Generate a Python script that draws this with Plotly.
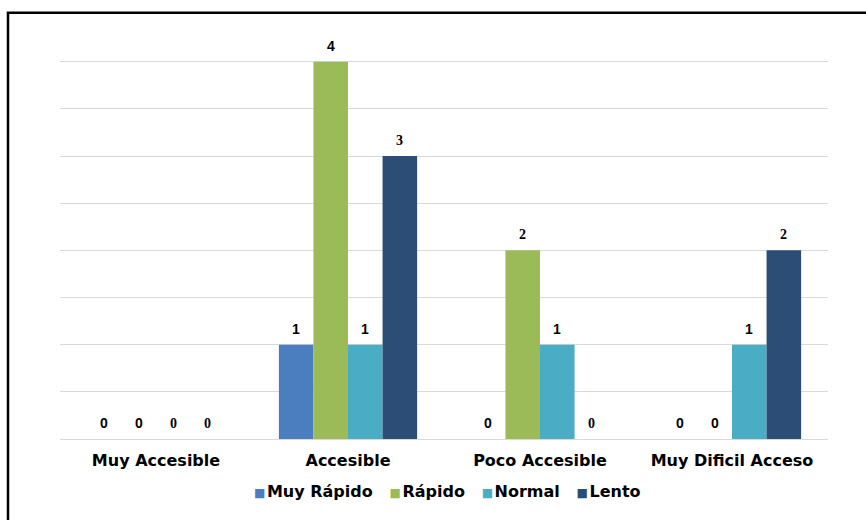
import plotly.graph_objects as go

categories = ["Muy Accesible", "Accesible", "Poco Accesible", "Muy Dificil Acceso"]
series_names = ["Muy Rápido", "Rápido", "Normal", "Lento"]
muy_rapido = [0, 1, 0, 0]
rapido = [0, 4, 2, 0]
normal = [0, 1, 1, 1]
lento = [0, 3, 0, 2]

colors = ["#4A7EBF", "#9BBB59", "#4BACC6", "#2C4D75"]

SANS = "Liberation Sans, Arial, sans-serif"
WIDE = "DejaVu Sans, Verdana, sans-serif"
SERIF = "Liberation Serif, Times New Roman, serif"
# value label typefaces per point, as they appear in the exported chart
label_fonts = [
    [SANS, SANS, SANS, SANS],
    [SANS, SANS, SERIF, SANS],
    [SERIF, SANS, SANS, SANS],
    [SERIF, SERIF, SERIF, SERIF],
]

Y_MAX = 4.05          # a little headroom so the gridline at 4 is drawn
BARGAP = 0.28

# plot area in pixels
W, H = 866, 520
L, R, B = 60, 38, 81
PW = W - L - R
UNIT = 377 / 4        # pixels per unit of value
PH = UNIT * Y_MAX
T = H - B - PH

fig = go.Figure()
for name, vals, col in zip(series_names, [muy_rapido, rapido, normal, lento], colors):
    fig.add_trace(go.Bar(
        name=name,
        x=categories,
        y=vals,
        marker=dict(color=col, line=dict(width=0)),
        showlegend=False,
    ))

# value labels above each bar, shifted sideways to their bar's slot in the group
n_series = len(series_names)
bar_px = PW / len(categories) * (1 - BARGAP) / n_series
for i, (vals, fams) in enumerate(zip([muy_rapido, rapido, normal, lento], label_fonts)):
    for cat, v, fam in zip(categories, vals, fams):
        fig.add_annotation(
            x=cat, y=v, xref="x", yref="y",
            text=str(v),
            showarrow=False,
            xanchor="center", yanchor="bottom",
            xshift=(i - (n_series - 1) / 2) * bar_px,
            yshift=6,
            font=dict(family=fam, size=14, color="#000000", weight="bold"),
        )

fig.update_layout(
    width=W,
    height=H,
    barmode="group",
    bargap=BARGAP,
    bargroupgap=0,
    plot_bgcolor="white",
    paper_bgcolor="white",
    margin=dict(l=L, r=R, t=T, b=B, autoexpand=False),
    font=dict(family=SANS, color="#000000"),
    showlegend=False,
)
fig.update_xaxes(
    showgrid=False,
    showline=False,
    ticks="",
    tickfont=dict(size=16, family=WIDE, weight="bold"),
    ticklabelstandoff=10,
)
fig.update_yaxes(
    range=[0, Y_MAX],
    dtick=0.5,
    showticklabels=False,
    showgrid=True,
    gridcolor="#D9D9D9",
    gridwidth=1,
    zeroline=True,
    zerolinecolor="#D9D9D9",
    zerolinewidth=1,
    showline=False,
    ticks="",
)

# legend row: small coloured squares followed by series names
gap = "&nbsp;&nbsp;&nbsp;"
legend_html = gap.join(
    f"<span style='color:{c};font-size:12px'>■</span>&#8202;{n}" for n, c in zip(series_names, colors)
)
fig.add_annotation(
    text=legend_html,
    xref="paper", yref="paper",
    x=(447 - L) / PW, y=(H - B - 491) / PH,
    xanchor="center", yanchor="middle",
    showarrow=False,
    font=dict(size=16, family=WIDE, color="#000000", weight="bold"),
)

# outer frame of the chart (right and bottom edges fall outside the page)
fig.add_shape(
    type="rect",
    xref="paper", yref="paper",
    x0=(8 - L) / PW, x1=(W + 10 - L) / PW,
    y0=(H - B - (H + 10)) / PH, y1=(H - B - 13) / PH,
    line=dict(color="#000000", width=2.5),
    fillcolor="rgba(0,0,0,0)",
    layer="above",
)

fig.write_html("out.html")
